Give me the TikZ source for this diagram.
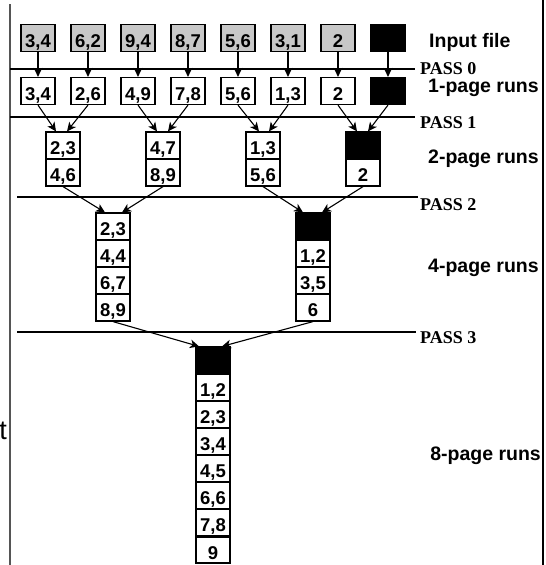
\documentclass[tikz,border=0pt]{standalone}
\usepackage{fontspec}
\setmainfont{Liberation Serif}
\setsansfont{Liberation Sans}
\usetikzlibrary{arrows.meta}
\definecolor{inputgray}{RGB}{200,200,200}
\definecolor{railgray}{RGB}{85,85,85}

\tikzset{
  page/.style={draw=black, line width=1.2pt, minimum width=34pt, minimum height=27pt,
    inner sep=0pt, text height=18pt, text depth=0pt,
    font=\sffamily\bfseries\fontsize{18.5}{18.5}\selectfont},
  inpage/.style={page, fill=inputgray},
  blkpage/.style={page, fill=black},
  flow/.style={-{Stealth[length=9pt,width=8.5pt,inset=2.5pt]}, line width=1.1pt},
  passline/.style={line width=1.2pt},
  rail/.style={line width=2pt},
  passlbl/.style={anchor=base west, inner sep=0pt,
    font=\rmfamily\bfseries\fontsize{18}{18}\selectfont},
  runlbl/.style={anchor=base west, inner sep=0pt,
    font=\sffamily\bfseries\fontsize{19.5}{19.5}\selectfont},
}

\begin{document}
\begin{tikzpicture}[x=1pt, y=-1pt]
\useasboundingbox (0,0) rectangle (546,565);

% side rails
\draw[rail, railgray] (10,4) -- (10,565);
\draw[rail, line width=2.5pt] (543,0) -- (543,565);
\node[anchor=base west, inner sep=0pt, font=\sffamily\fontsize{27}{27}\selectfont] (cut) at (-0.8,439) {t};

% pass separators
\draw[passline] (10,69) -- (415,69);
\draw[passline] (10,117) -- (415,117);
\draw[passline] (17,197) -- (418,197);
\draw[passline] (17,332) -- (416,332);

\node[passlbl] (pass0) at (420,74) {PASS 0};
\node[passlbl] (pass1) at (420,128) {PASS 1};
\node[passlbl] (pass2) at (420,210) {PASS 2};
\node[passlbl] (pass3) at (420,343) {PASS 3};

\node[runlbl] (lin) at (429,47) {Input file};
\node[runlbl] (l1) at (428,92) {1-page runs};
\node[runlbl] (l2) at (428,163) {2-page runs};
\node[runlbl] (l4) at (428,272) {4-page runs};
\node[runlbl, anchor=base east] (l8) at (541,460) {8-page runs};

% input file pages
\node[inpage] (i1) at (38,38) {3,4};
\node[inpage] (i2) at (88,38) {6,2};
\node[inpage] (i3) at (138,38) {9,4};
\node[inpage] (i4) at (188,38) {8,7};
\node[inpage] (i5) at (238,38) {5,6};
\node[inpage] (i6) at (288,38) {3,1};
\node[inpage] (i7) at (338,38) {2};
\node[blkpage] (i8) at (388,38) {};

% 1-page runs
\node[page] (p1) at (38,91) {3,4};
\node[page] (p2) at (88,91) {2,6};
\node[page] (p3) at (138,91) {4,9};
\node[page] (p4) at (188,91) {7,8};
\node[page] (p5) at (238,91) {5,6};
\node[page] (p6) at (288,91) {1,3};
\node[page] (p7) at (338,91) {2};
\node[blkpage] (p8) at (388,91) {};

% 2-page runs
\node[page] (m1a) at (63,145.5) {2,3};
\node[page] (m1b) at (63,172.5) {4,6};
\node[page] (m2a) at (163,145.5) {4,7};
\node[page] (m2b) at (163,172.5) {8,9};
\node[page] (m3a) at (263,145.5) {1,3};
\node[page] (m3b) at (263,172.5) {5,6};
\node[blkpage] (m4a) at (363,145.5) {};
\node[page] (m4b) at (363,172.5) {2};

% 4-page runs
\node[page] (q1a) at (113,226.5) {2,3};
\node[page] (q1b) at (113,253.5) {4,4};
\node[page] (q1c) at (113,280.5) {6,7};
\node[page] (q1d) at (113,307.5) {8,9};
\node[blkpage] (q2a) at (313,226.5) {};
\node[page] (q2b) at (313,253.5) {1,2};
\node[page] (q2c) at (313,280.5) {3,5};
\node[page] (q2d) at (313,307.5) {6};

% 8-page run
\node[blkpage] (e0) at (213,360.5) {};
\node[page] (e1) at (213,387.5) {1,2};
\node[page] (e2) at (213,414.5) {2,3};
\node[page] (e3) at (213,441.5) {3,4};
\node[page] (e4) at (213,468.5) {4,5};
\node[page] (e5) at (213,495.5) {6,6};
\node[page] (e6) at (213,522.5) {7,8};
\node[page, minimum height=26pt] (e7) at (213,550) {9};

% pass 0: each page sorted on its own
\foreach \k in {1,...,8} \draw[flow] (i\k.south) -- (p\k.north);

% pass 1: merge pairs of 1-page runs
\draw[flow] (p1.south) -- ([xshift=-7pt]m1a.north);
\draw[flow] (p2.south) -- ([xshift=4pt]m1a.north);
\draw[flow] (p3.south) -- ([xshift=-6pt]m2a.north);
\draw[flow] (p4.south) -- ([xshift=5pt]m2a.north);
\draw[flow] (p5.south) -- ([xshift=-4pt]m3a.north);
\draw[flow] (p6.south) -- ([xshift=6pt]m3a.north);
\draw[flow] (p7.south) -- ([xshift=-6pt]m4a.north);
\draw[flow] (p8.south) -- ([xshift=5pt]m4a.north);

% pass 2: merge pairs of 2-page runs
\draw[flow] (m1b.south) -- ([xshift=-8pt]q1a.north);
\draw[flow] (m2b.south) -- ([xshift=9pt]q1a.north);
\draw[flow] (m3b.south) -- ([xshift=-10pt]q2a.north);
\draw[flow] (m4b.south) -- ([xshift=9pt]q2a.north);

% pass 3: merge the two 4-page runs
\draw[flow] (q1d.south) -- ([xshift=-14pt]e0.north);
\draw[flow] (q2d.south) -- ([xshift=9pt]e0.north);
\end{tikzpicture}
\end{document}
